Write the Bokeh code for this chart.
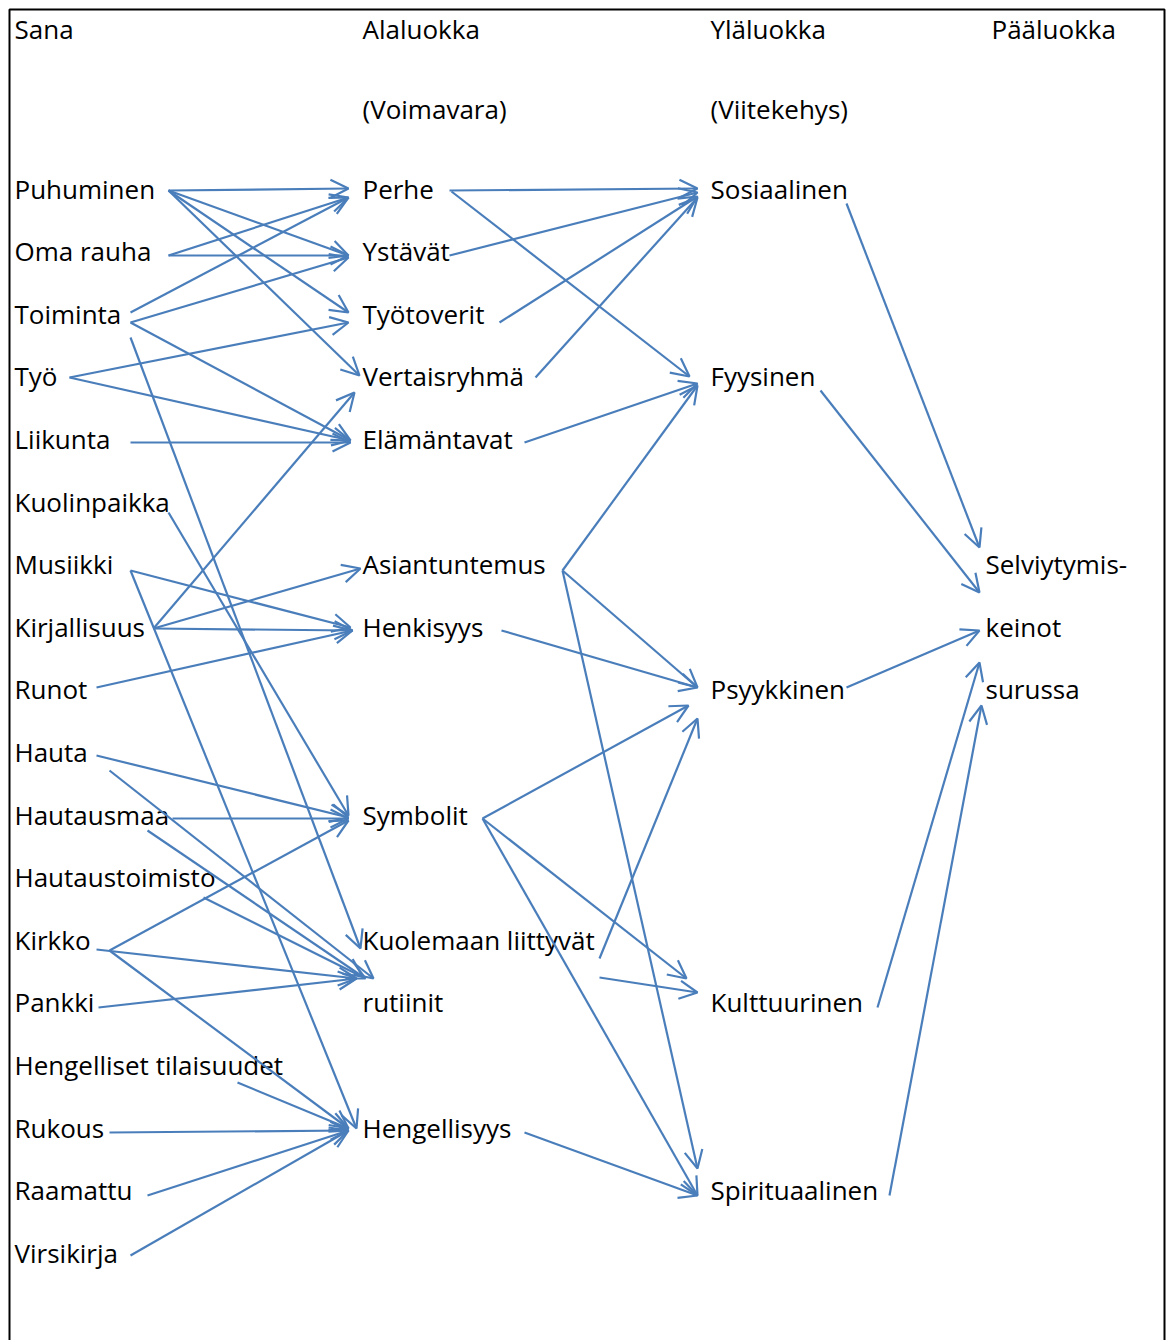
from bokeh.plotting import figure
from bokeh.models import Range1d, Arrow, OpenHead, ColumnDataSource, BoxAnnotation
from bokeh.core.properties import value
from bokeh.embed import file_html
from bokeh.resources import INLINE

# ---- data -------------------------------------------------------------
headers = ["Sana", "Alaluokka", "Yläluokka", "Pääluokka"]
subheaders = ["", "(Voimavara)", "(Viitekehys)", ""]

sana_words = ["Puhuminen", "Oma rauha", "Toiminta", "Työ", "Liikunta", "Kuolinpaikka",
              "Musiikki", "Kirjallisuus", "Runot", "Hauta", "Hautausmaa", "Hautaustoimisto",
              "Kirkko", "Pankki", "Hengelliset tilaisuudet", "Rukous", "Raamattu", "Virsikirja"]
sana_rows = [0, 1, 2, 3, 4, 5, 6, 7, 8, 9, 10, 11, 12, 13, 14, 15, 16, 17]

alaluokka = ["Perhe", "Ystävät", "Työtoverit", "Vertaisryhmä", "Elämäntavat", "Asiantuntemus",
             "Henkisyys", "Symbolit", "Kuolemaan liittyvät", "rutiinit", "Hengellisyys"]
alaluokka_rows = [0, 1, 2, 3, 4, 6, 7, 10, 12, 13, 15]

ylaluokka = ["Sosiaalinen", "Fyysinen", "Psyykkinen", "Kulttuurinen", "Spirituaalinen"]
ylaluokka_rows = [0, 3, 8, 13, 16]

paaluokka = ["Selviytymis-", "keinot", "surussa"]
paaluokka_rows = [6, 7, 8]

# edges: source, target, start (x, y), end (x, y) (page pixels)
edge_src = ["Puhuminen", "Puhuminen", "Puhuminen", "Puhuminen", "Oma rauha", "Oma rauha",
            "Toiminta", "Toiminta", "Toiminta", "Toiminta", "Työ", "Työ", "Liikunta",
            "Kuolinpaikka", "Musiikki", "Musiikki", "Kirjallisuus", "Kirjallisuus", "Kirjallisuus",
            "Runot", "Hauta", "Hauta", "Hautausmaa", "Hautausmaa", "Hautaustoimisto",
            "Kirkko", "Kirkko", "Kirkko", "Pankki", "Hengelliset tilaisuudet", "Rukous",
            "Raamattu", "Virsikirja",
            "Perhe", "Perhe", "Ystävät", "Työtoverit", "Vertaisryhmä", "Elämäntavat",
            "Asiantuntemus", "Asiantuntemus", "Asiantuntemus", "Henkisyys", "Symbolit",
            "Symbolit", "Symbolit", "Kuolemaan liittyvät rutiinit",
            "Kuolemaan liittyvät rutiinit", "Hengellisyys",
            "Sosiaalinen", "Fyysinen", "Psyykkinen", "Kulttuurinen", "Spirituaalinen"]
edge_dst = ["Perhe", "Ystävät", "Työtoverit", "Vertaisryhmä", "Perhe", "Ystävät",
            "Perhe", "Ystävät", "Elämäntavat", "Kuolemaan liittyvät rutiinit", "Työtoverit",
            "Elämäntavat", "Elämäntavat",
            "Symbolit", "Henkisyys", "Hengellisyys", "Vertaisryhmä", "Asiantuntemus", "Henkisyys",
            "Henkisyys", "Symbolit", "Kuolemaan liittyvät rutiinit", "Symbolit",
            "Kuolemaan liittyvät rutiinit", "Kuolemaan liittyvät rutiinit",
            "Symbolit", "Kuolemaan liittyvät rutiinit", "Hengellisyys",
            "Kuolemaan liittyvät rutiinit", "Hengellisyys", "Hengellisyys",
            "Hengellisyys", "Hengellisyys",
            "Sosiaalinen", "Fyysinen", "Sosiaalinen", "Sosiaalinen", "Sosiaalinen", "Fyysinen",
            "Fyysinen", "Psyykkinen", "Spirituaalinen", "Psyykkinen", "Psyykkinen",
            "Kulttuurinen", "Spirituaalinen", "Psyykkinen", "Kulttuurinen", "Spirituaalinen",
            "Selviytymiskeinot surussa", "Selviytymiskeinot surussa", "Selviytymiskeinot surussa",
            "Selviytymiskeinot surussa", "Selviytymiskeinot surussa"]
edge_x0 = [168, 168, 168, 168, 168, 168, 130, 130, 130, 130, 69, 69, 130,
           168, 130, 130, 153, 153, 153, 96, 96, 109, 172, 147, 203,
           109, 96, 109, 98, 237, 109, 147, 130,
           449, 451, 449, 499, 535, 524, 562, 562, 562, 501, 482, 482, 482, 599, 599, 524,
           846, 820, 846, 877, 889]
edge_y0 = [190, 190, 190, 190, 255, 255, 312, 322, 322, 337, 377, 377, 442,
           512, 570, 570, 628, 628, 628, 687, 755, 770, 818, 830, 897,
           950, 949, 950, 1007, 1082, 1132, 1195, 1255,
           190, 191, 255, 322, 377, 442, 570, 570, 570, 630, 818, 818, 818, 958, 977, 1132,
           203, 390, 687, 1007, 1195]
edge_x1 = [348, 348, 348, 359, 348, 348, 348, 348, 350, 360, 348, 350, 350,
           348, 350, 356, 354, 360, 352, 352, 348, 373, 348, 362, 365,
           348, 356, 348, 356, 348, 348, 348, 348,
           697, 689, 697, 697, 697, 697, 697, 697, 697, 697, 688, 686, 697, 697, 697, 697,
           979, 979, 979, 979, 981]
edge_y1 = [188, 255, 312, 375, 197, 255, 197, 257, 440, 948, 322, 440, 442,
           815, 627, 1128, 392, 568, 630, 630, 817, 978, 818, 976, 978,
           820, 978, 1128, 978, 1128, 1130, 1130, 1130,
           188, 376, 192, 196, 197, 383, 385, 687, 1168, 687, 705, 978, 1195, 718, 992, 1195,
           547, 592, 630, 662, 705]

# ---- layout -----------------------------------------------------------
W, H = 1166, 1340
COL_X = [14, 362, 710, 985]
HEADER_X = [14, 362, 710, 991]
ROW0, ROW_STEP = 190, 62.6
DY = -2  # text anchor offset
FONT = value("Open Sans")
FSIZE = value("26px")
BLUE = "#4A7EBB"

p = figure(width=W, height=H, x_range=Range1d(0, W), y_range=Range1d(H, 0),
           output_backend="svg", toolbar_location=None, min_border=0)
p.axis.visible = False
p.grid.visible = False
p.outline_line_color = None
p.background_fill_color = "white"
p.border_fill_color = "white"

p.add_layout(BoxAnnotation(left=9, right=1164, top=9, bottom=1500, fill_color=None,
                           fill_alpha=0, line_color="black", line_alpha=1.0, line_width=2))

lab_x, lab_y, lab_t = [], [], []
for i, h in enumerate(headers):
    lab_x.append(HEADER_X[i]); lab_y.append(30 + DY); lab_t.append(h)
for i, h in enumerate(subheaders):
    if h:
        lab_x.append(HEADER_X[i]); lab_y.append(110 + DY); lab_t.append(h)
for col, (words, rows) in enumerate([(sana_words, sana_rows), (alaluokka, alaluokka_rows),
                                     (ylaluokka, ylaluokka_rows), (paaluokka, paaluokka_rows)]):
    for w, r in zip(words, rows):
        lab_x.append(COL_X[col]); lab_y.append(ROW0 + ROW_STEP * r + DY); lab_t.append(w)

p.text(x=lab_x, y=lab_y, text=lab_t, text_font=FONT, text_font_size=FSIZE,
       text_baseline="middle", text_align="left", text_color="black")

src = ColumnDataSource(dict(x0=edge_x0, y0=edge_y0, x1=edge_x1, y1=edge_y1,
                            s=edge_src, t=edge_dst))
p.add_layout(Arrow(source=src, x_start="x0", y_start="y0", x_end="x1", y_end="y1",
                   line_color=BLUE, line_width=2.2,
                   end=OpenHead(size=18, line_color=BLUE, line_width=2.2)))

open("out.html", "w").write(file_html(p, INLINE))
